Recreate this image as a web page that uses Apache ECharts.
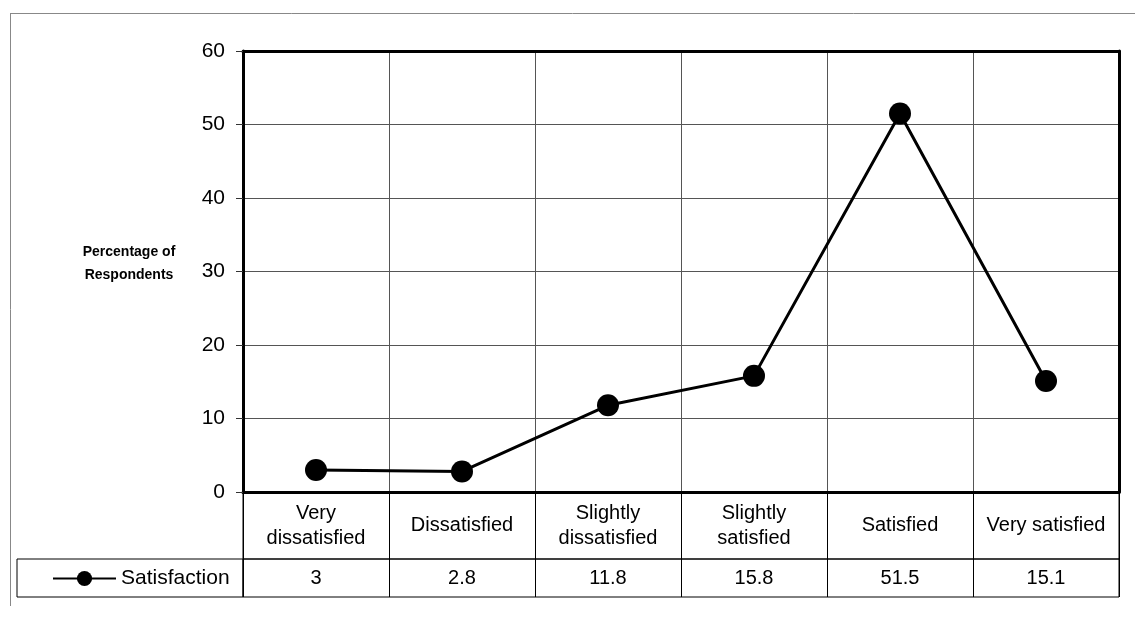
<!DOCTYPE html>
<html>
<head>
<meta charset="utf-8">
<script src="https://cdn.jsdelivr.net/npm/echarts@6/dist/echarts.min.js"></script>
<style>
html,body{margin:0;padding:0;background:#fff;}
#chart{width:1135px;height:617px;}
</style>
</head>
<body>
<div id="chart"></div>
<script>
const categories = ['Very\ndissatisfied', 'Dissatisfied', 'Slightly\ndissatisfied', 'Slightly\nsatisfied', 'Satisfied', 'Very satisfied'];
const satisfaction = [3, 2.8, 11.8, 15.8, 51.5, 15.1];
const seriesName = 'Satisfaction';
const yTitle = 'Percentage of\nRespondents';
const yMin = 0, yMax = 60, yStep = 10;

const FONT = '"Liberation Sans", Arial, sans-serif';
const chart = echarts.init(document.getElementById('chart'));

const gridLine = { show: true, lineStyle: { color: '#555', width: 1 } };
const border = { show: true, onZero: false, lineStyle: { color: '#000', width: 3 } };
const none = { show: false };

const option = {
  backgroundColor: '#fff',
  animation: false,
  textStyle: { fontFamily: FONT },
  title: {
    text: yTitle, left: 124, top: 236, textAlign: 'center',
    textStyle: { fontFamily: FONT, fontSize: 14, fontWeight: 'bold', color: '#000', lineHeight: 23 }
  },
  legend: {
    data: [seriesName], left: 52, top: 568, padding: 0,
    itemWidth: 63, itemHeight: 19, itemGap: 5,
    textStyle: { fontFamily: FONT, fontSize: 21, color: '#000' }
  },
  graphic: [
    { type: 'line', shape: { x1: 10, y1: 13.5, x2: 1135, y2: 13.5 }, style: { stroke: '#888', lineWidth: 1 }, silent: true },
    { type: 'line', shape: { x1: 10.5, y1: 13, x2: 10.5, y2: 606 }, style: { stroke: '#888', lineWidth: 1 }, silent: true }
  ],
  grid: [
    { left: 243, top: 51, width: 876, height: 441, containLabel: false },
    { left: 243, top: 492, width: 876, height: 67, show: true, borderColor: '#000', borderWidth: 1, backgroundColor: 'transparent' },
    { left: 243, top: 559, width: 876, height: 38, show: true, borderColor: '#000', borderWidth: 1, backgroundColor: 'transparent' },
    { left: 17, top: 559, width: 226, height: 38, show: true, borderColor: '#000', borderWidth: 1, backgroundColor: 'transparent' }
  ],
  xAxis: [
    { gridIndex: 0, type: 'category', data: categories, position: 'bottom', boundaryGap: true,
      axisLine: none, axisTick: none, axisLabel: none, splitLine: gridLine, z: 1 },
    { gridIndex: 0, type: 'category', data: categories, position: 'bottom',
      axisLine: border, axisTick: none, axisLabel: none, splitLine: none, z: 6 },
    { gridIndex: 0, type: 'category', data: categories, position: 'top',
      axisLine: border, axisTick: none, axisLabel: none, splitLine: none, z: 6 },
    { gridIndex: 1, type: 'category', data: categories, boundaryGap: true,
      axisLine: none, axisTick: none, axisLabel: none,
      splitLine: { show: true, lineStyle: { color: '#000', width: 1 } } },
    { gridIndex: 2, type: 'category', data: categories, boundaryGap: true,
      axisLine: none, axisTick: none, axisLabel: none,
      splitLine: { show: true, lineStyle: { color: '#000', width: 1 } } },
    { gridIndex: 3, type: 'value', min: 0, max: 1, show: false }
  ],
  yAxis: [
    { gridIndex: 0, type: 'value', min: yMin, max: yMax, interval: yStep, position: 'left',
      axisLine: border, axisTick: { show: true, length: 7, lineStyle: { color: '#333', width: 1 } },
      axisLabel: { show: true, margin: 18, fontSize: 21, color: '#000', fontFamily: FONT },
      splitLine: none, z: 6 },
    { gridIndex: 0, type: 'value', min: yMin, max: yMax, interval: yStep, position: 'left',
      axisLine: none, axisTick: none, axisLabel: none, splitLine: gridLine, z: 1 },
    { gridIndex: 0, type: 'value', min: yMin, max: yMax, interval: yStep, position: 'right',
      axisLine: border, axisTick: none, axisLabel: none, splitLine: none, z: 6 },
    { gridIndex: 1, type: 'value', min: 0, max: 1, show: false },
    { gridIndex: 2, type: 'value', min: 0, max: 1, show: false },
    { gridIndex: 3, type: 'value', min: 0, max: 1, show: false }
  ],
  series: [
    {
      name: seriesName, type: 'line', xAxisIndex: 0, yAxisIndex: 0,
      data: satisfaction, symbol: 'circle', symbolSize: 22, z: 4,
      itemStyle: { color: '#000' }, lineStyle: { color: '#000', width: 3 }
    },
    {
      type: 'scatter', xAxisIndex: 3, yAxisIndex: 3, silent: true, symbolSize: 0,
      itemStyle: { opacity: 1, color: '#000' },
      data: categories.map((c, i) => [i, 0.5]),
      label: { show: true, position: 'inside', formatter: p => categories[p.dataIndex], opacity: 1,
        fontFamily: FONT, fontSize: 20, color: '#000', lineHeight: 25, align: 'center', verticalAlign: 'middle' }
    },
    {
      type: 'scatter', xAxisIndex: 4, yAxisIndex: 4, silent: true, symbolSize: 0,
      itemStyle: { opacity: 1, color: '#000' },
      data: satisfaction.map((v, i) => [i, 0.5]),
      label: { show: true, position: 'inside', formatter: p => String(satisfaction[p.dataIndex]), opacity: 1,
        fontFamily: FONT, fontSize: 20, color: '#000', align: 'center', verticalAlign: 'middle' }
    }
  ]
};
chart.setOption(option);
</script>
</body>
</html>
